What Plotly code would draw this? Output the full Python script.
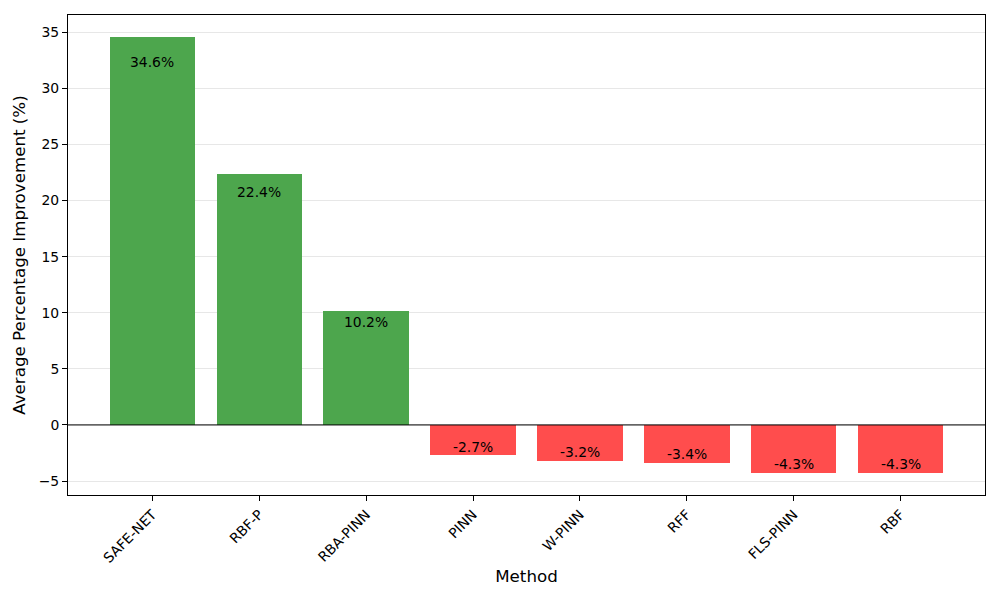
import plotly.graph_objects as go

methods = ["SAFE-NET", "RBF-P", "RBA-PINN", "PINN", "W-PINN", "RFF", "FLS-PINN", "RBF"]
improvements = [34.6, 22.4, 10.2, -2.7, -3.2, -3.4, -4.3, -4.3]
y_ticks = [-5, 0, 5, 10, 15, 20, 25, 30, 35]

colors = ["#4DA64D" if v > 0 else "#FF4D4D" for v in improvements]
xs = list(range(len(methods)))

fig = go.Figure()
fig.add_trace(go.Bar(x=xs, y=improvements, width=0.8, marker=dict(color=colors, line=dict(width=0)),
                     hoverinfo="skip", showlegend=False))

for x, v in zip(xs, improvements):
    fig.add_annotation(x=x, y=v * 0.95, text=f"{v:.1f}%", showarrow=False,
                       yanchor="top" if v > 0 else "bottom", xanchor="center",
                       yshift=4 if v > 0 else -3,
                       font=dict(family="DejaVu Sans", size=13.9, color="black"))

fig.add_shape(type="line", xref="paper", x0=0, x1=1, yref="y", y0=0, y1=0,
              line=dict(color="black", width=1))

fig.update_layout(
    width=1000, height=600,
    margin=dict(l=68, r=15, t=15, b=105),
    plot_bgcolor="white", paper_bgcolor="white",
    font=dict(family="DejaVu Sans", size=13.9, color="black"),
    bargap=0,
)
fig.update_xaxes(
    range=[-0.79, 7.79], tickmode="array", tickvals=xs, ticktext=methods, tickangle=-45,
    ticks="outside", ticklen=5, tickcolor="black", showline=True, linecolor="black", linewidth=1,
    mirror=True, showgrid=False, zeroline=False, automargin=False,
    title=dict(text="Method", font=dict(size=16.7), standoff=5),
)
fig.update_yaxes(
    range=[-6.245, 36.545], tickmode="array", tickvals=y_ticks,
    ticks="outside", ticklen=5, tickcolor="black", showline=True, linecolor="black", linewidth=1,
    mirror=True, showgrid=True, gridcolor="rgba(176,176,176,0.3)", gridwidth=1, zeroline=False,
    automargin=False,
    title=dict(text="Average Percentage Improvement (%)", font=dict(size=16.7), standoff=8),
)

fig.write_html("out.html", config={"displayModeBar": False},
               post_script="document.body.style.margin='0';document.body.style.padding='0';")
